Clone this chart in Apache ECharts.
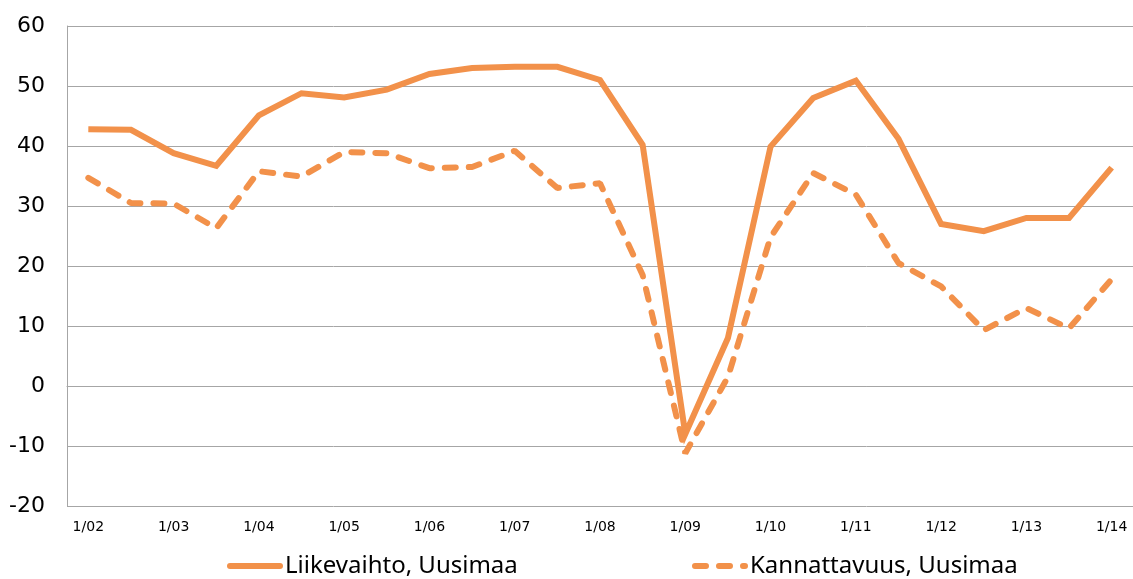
<!DOCTYPE html>
<html>
<head>
<meta charset="utf-8">
<script src="https://cdn.jsdelivr.net/npm/echarts@6/dist/echarts.min.js"></script>
<style>
  html, body { margin: 0; padding: 0; background: #fff; }
  #chart-container { width: 1133px; height: 579px; }
</style>
</head>
<body>
<div id="chart-container"></div>
<script>
// half-year points, only the 1/yy ones get a label
const categories = [
  '1/02', '7/02', '1/03', '7/03', '1/04', '7/04', '1/05', '7/05', '1/06', '7/06',
  '1/07', '7/07', '1/08', '7/08', '1/09', '7/09', '1/10', '7/10', '1/11', '7/11',
  '1/12', '7/12', '1/13', '7/13', '1/14'
];
const liikevaihto = [
  42.8, 42.7, 38.8, 36.7, 45.1, 48.8, 48.1, 49.4, 52.0, 53.0,
  53.2, 53.2, 51.0, 40.2, -8.0, 8.0, 39.9, 48.0, 50.9, 41.2,
  27.0, 25.8, 28.0, 28.0, 36.4
];
const kannattavuus = [
  34.7, 30.5, 30.4, 26.3, 35.8, 34.9, 39.0, 38.8, 36.3, 36.5,
  39.2, 33.0, 33.8, 18.5, -11.2, 1.5, 24.8, 35.5, 31.9, 20.5,
  16.6, 9.3, 13.0, 9.6, 17.8
];
const names = ['Liikevaihto, Uusimaa', 'Kannattavuus, Uusimaa'];

const orange = '#F2914A';
const legendBase = {
    bottom: -4,
    itemWidth: 50,
    itemHeight: 14,
    itemStyle: { opacity: 0 },
    lineStyle: { width: 6, cap: 'round' },
    textStyle: { fontSize: 24, color: '#000', fontFamily: 'Noto Sans' }
};
const myChart = echarts.init(document.getElementById('chart-container'));
const option = {
    animation: false,
    textStyle: { fontFamily: 'DejaVu Sans' },
    grid: { left: 67, right: -1, top: 26, bottom: 73 },
    legend: [
        Object.assign({}, legendBase, { left: 222, data: [names[0]] }),
        Object.assign({}, legendBase, { left: 687, data: [names[1]] })
    ],
    xAxis: {
        type: 'category',
        boundaryGap: true,
        data: categories,
        axisLine: { lineStyle: { color: '#A6A6A6' } },
        axisTick: { show: false },
        axisLabel: { interval: 1, color: '#000', fontSize: 14, margin: 14 }
    },
    yAxis: {
        type: 'value',
        min: -20,
        max: 60,
        interval: 10,
        axisLine: { show: true, lineStyle: { color: '#A6A6A6' } },
        axisTick: { show: false },
        splitLine: { lineStyle: { color: '#A6A6A6' } },
        axisLabel: { color: '#000', fontSize: 22, margin: 22 }
    },
    series: [
        {
            name: names[0],
            type: 'line',
            symbol: 'none',
            data: liikevaihto,
            color: orange,
            lineStyle: { width: 6, color: orange, join: 'miter' }
        },
        {
            name: names[1],
            type: 'line',
            symbol: 'none',
            data: kannattavuus,
            color: orange,
            lineStyle: { width: 6, color: orange, type: [11, 13], cap: 'round' }
        }
    ]
};

option && myChart.setOption(option);
</script>
</body>
</html>
